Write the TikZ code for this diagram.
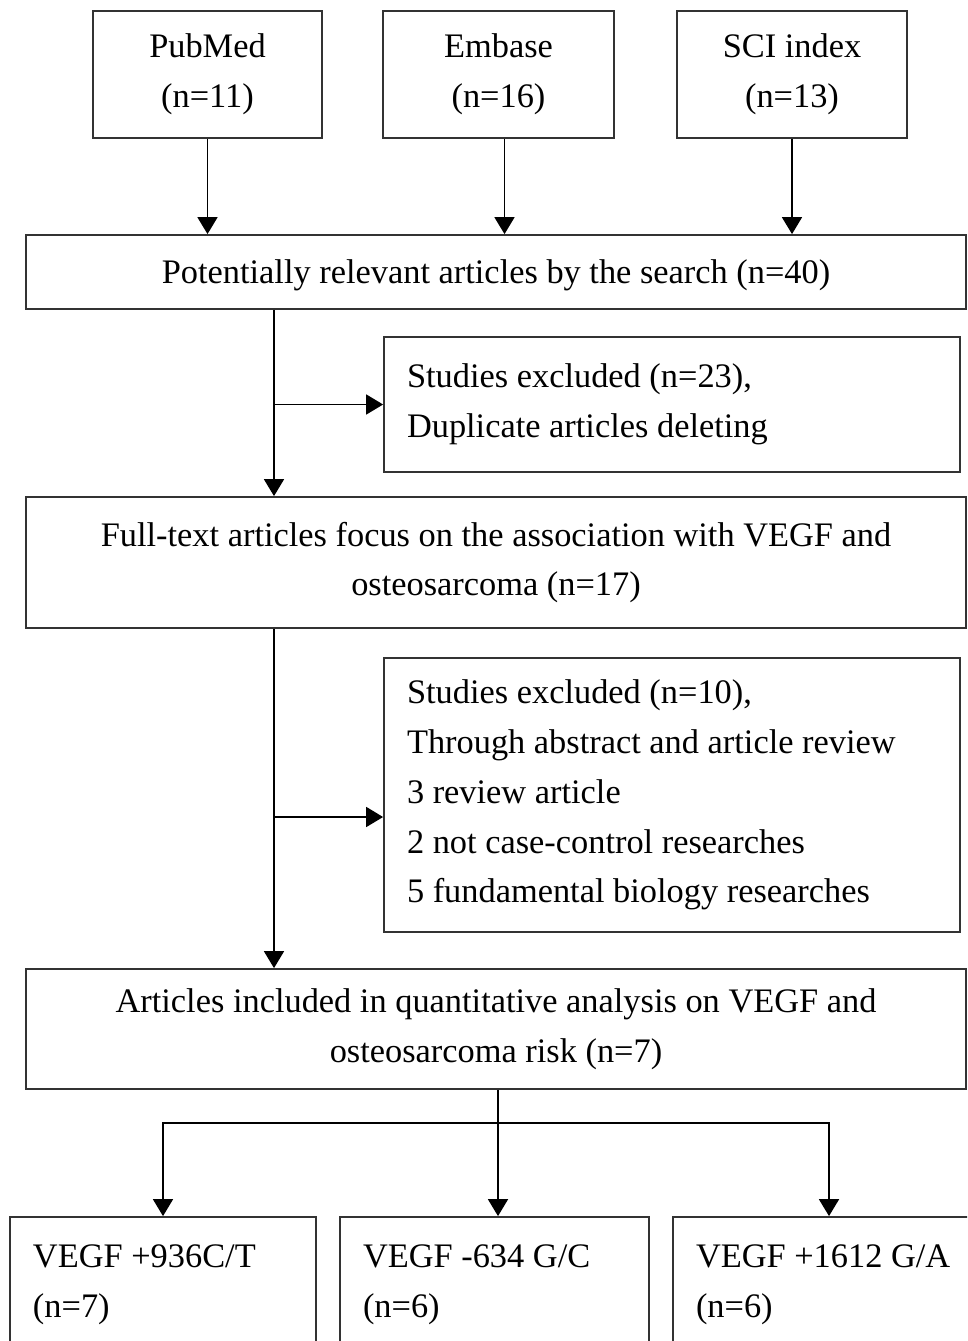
\documentclass[tikz,border=0pt]{standalone}
\usepackage{fontspec}
\setmainfont{Liberation Serif}
\usetikzlibrary{arrows.meta}
\newcommand{\myfont}{\fontsize{34.5}{50}\selectfont}
\begin{document}
\begin{tikzpicture}[x=1bp,y=-1bp,
  box/.style={draw=black!80, line width=1.8bp, rectangle, inner sep=0pt, font=\myfont, align=center},
  lbox/.style={box, align=flush left, inner xsep=23bp, inner ysep=0pt},
  arr/.style={line width=1.8bp, black, -{Triangle[width=20bp,length=17bp]}},
  ln/.style={line width=1.8bp, black}]
\useasboundingbox (0,0) rectangle (967,1341);
\clip (0,0) rectangle (967,1341);
\fill[white] (0,0) rectangle (967,1341);
% top sources
\node[box, minimum width=229bp, minimum height=127bp] (pub) at (207.5,74.5) {PubMed\\(n=11)};
\node[box, minimum width=231bp, minimum height=127bp] (emb) at (498.5,74.5) {Embase\\(n=16)};
\node[box, minimum width=230bp, minimum height=127bp] (sci) at (792,74.5) {SCI index\\(n=13)};
% main column
\node[box, minimum width=940bp, minimum height=74bp, text depth=0pt] (pot) at (496,272) {Potentially relevant articles by the search (n=40)};
\node[lbox, text width=530bp, minimum height=135bp] (ex1) at (672,404.5) {Studies excluded (n=23),\\Duplicate articles deleting};
\node[box, minimum width=940bp, minimum height=131bp] (ful) at (496,562.5) {Full-text articles focus on the association with VEGF and\\osteosarcoma (n=17)};
\node[lbox, text width=530bp, minimum height=274bp] (ex2) at (672,795) {Studies excluded (n=10),\\Through abstract and article review\\3 review article\\2 not case-control researches\\5 fundamental biology researches};
\node[box, minimum width=940bp, minimum height=120bp] (art) at (496,1029) {Articles included in quantitative analysis on VEGF and\\osteosarcoma risk (n=7)};
% bottom boxes
\node[lbox, text width=260bp, minimum height=135bp] (g1) at (163,1284.5) {VEGF +936C/T\\(n=7)};
\node[lbox, text width=263bp, minimum height=135bp] (g2) at (494.5,1284.5) {VEGF -634 G/C\\(n=6)};
\node[lbox, text width=266bp, minimum height=135bp] (g3) at (829,1284.5) {VEGF +1612 G/A\\(n=6)};
% connectors top
\draw[arr] (pub.south) -- (pub.south |- pot.north);
\coordinate (e1) at ([xshift=6bp]emb.south);
\draw[arr] (e1) -- (e1 |- pot.north);
\draw[arr] (sci.south) -- (sci.south |- pot.north);
% first exclusion
\coordinate (c1) at ([xshift=-222bp]pot.south);
\draw[arr] (c1) -- (c1 |- ful.north);
\draw[arr] (c1 |- ex1.west) -- (ex1.west);
% second exclusion
\coordinate (c2) at ([xshift=-222bp]ful.south);
\coordinate (b2) at ([yshift=-22bp]ex2.west);
\draw[arr] (c2) -- (c2 |- art.north);
\draw[arr] (c2 |- b2) -- (b2);
% final split
\coordinate (a0) at ([xshift=2bp]art.south);
\coordinate (hy) at (0,1123);
\draw[arr] (a0) -- (a0 |- g2.north);
\draw[arr] (hy -| a0) -| (g1.north);
\draw[arr] (hy -| a0) -| (g3.north);
\end{tikzpicture}
\end{document}
